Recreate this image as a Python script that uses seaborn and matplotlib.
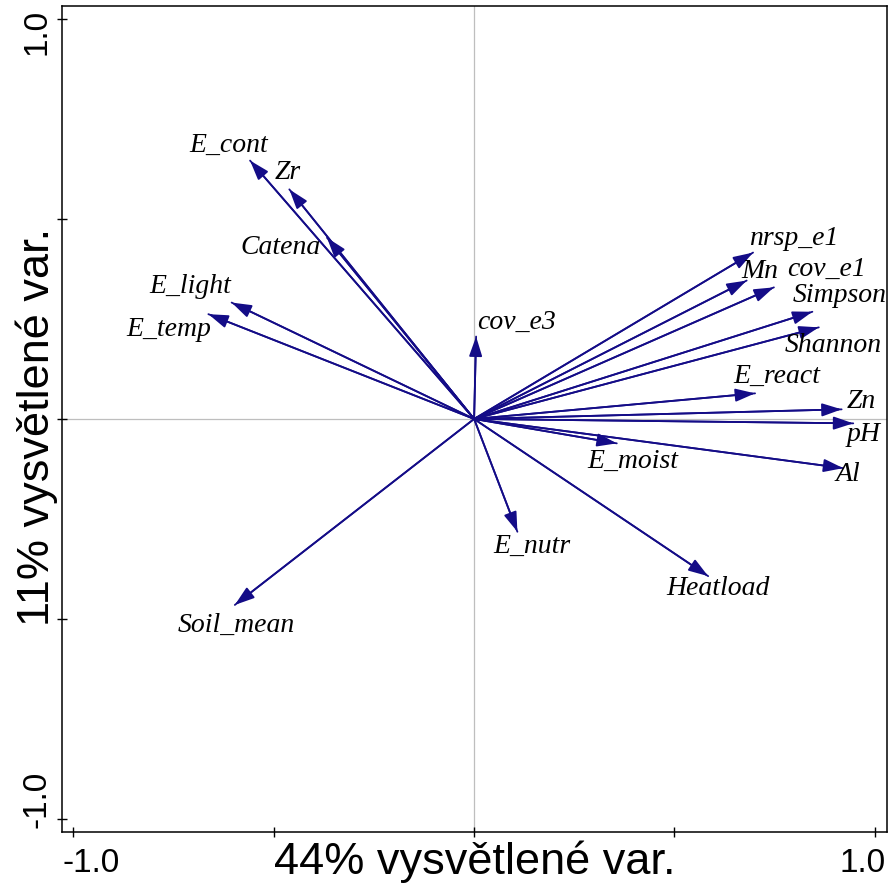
import numpy as np
import pandas as pd
import seaborn as sns
import matplotlib.pyplot as plt
import matplotlib.transforms as mtransforms

# Arrow tips (PCA loadings)
variables = ["E_cont", "Zr", "Catena", "E_light", "E_temp", "cov_e3",
             "nrsp_e1", "Mn", "cov_e1", "Simpson", "Shannon", "E_react",
             "Zn", "pH", "Al", "E_moist", "E_nutr", "Heatload", "Soil_mean"]
pc1 = [-0.559, -0.461, -0.367, -0.605, -0.663, 0.005,
       0.696, 0.680, 0.748, 0.844, 0.860, 0.701,
       0.917, 0.946, 0.921, 0.356, 0.108, 0.584, -0.597]
pc2 = [0.646, 0.574, 0.453, 0.291, 0.262, 0.206,
       0.416, 0.346, 0.329, 0.268, 0.229, 0.064,
       0.024, -0.011, -0.123, -0.061, -0.282, -0.393, -0.465]
# label positions
lab_x = [-0.612, -0.465, -0.484, -0.709, -0.763, 0.106,
         0.797, 0.714, 0.879, 0.912, 0.896, 0.755,
         0.967, 0.971, 0.933, 0.397, 0.143, 0.609, -0.593]
lab_y = [0.685, 0.615, 0.428, 0.331, 0.223, 0.241,
         0.452, 0.368, 0.374, 0.308, 0.183, 0.106,
         0.043, -0.040, -0.140, -0.107, -0.319, -0.423, -0.515]

ticks = [-1.0, -0.5, 0.0, 0.5, 1.0]
tick_labels = ["-1.0", "", "", "", "1.0"]

sns.set_style("ticks")
plt.rcParams['font.family'] = ['Liberation Sans', 'DejaVu Sans']
plt.rcParams['text.color'] = 'black'
plt.rcParams['axes.labelcolor'] = 'black'
plt.rcParams['xtick.color'] = 'black'
plt.rcParams['ytick.color'] = 'black'

arrow_col = "#140c87"

fig = plt.figure(figsize=(8.89, 8.83), dpi=100)
ax = fig.add_axes([0.0694, 0.0581, 0.9287, 0.9351])

ax.axhline(0, color="#bebebe", lw=0.9, zorder=0)
ax.axvline(0, color="#bebebe", lw=0.9, zorder=0)

# arrow shafts
seg = pd.DataFrame({
    "var": np.repeat(variables, 2),
    "x": np.ravel([[0, v] for v in pc1]),
    "y": np.ravel([[0, v] for v in pc2]),
})
sns.lineplot(data=seg, x="x", y="y", units="var", estimator=None, sort=False,
             color=arrow_col, lw=1.3, ax=ax, legend=False)

# arrow heads and labels
for name, x, y, lx, ly in zip(variables, pc1, pc2, lab_x, lab_y):
    ax.annotate("", xy=(x, y), xytext=(0, 0),
                arrowprops=dict(arrowstyle="-|>,head_length=1.2,head_width=0.4",
                                color=arrow_col, lw=1.3, shrinkA=0, shrinkB=0))
    ax.text(lx, ly, name, ha="center", va="center", fontsize=20,
            fontstyle="italic", family=["Liberation Serif", "DejaVu Serif"])

ax.set_xlim(-1.029, 1.031)
ax.set_ylim(-1.032, 1.0325)
ax.set_xticks(ticks, tick_labels, fontsize=24)
ax.set_yticks(ticks, tick_labels, fontsize=24, rotation=90, va="center")
ax.tick_params(direction="inout", length=7, width=1.0, color="black")
ax.tick_params(axis="x", pad=8)
ax.tick_params(axis="y", pad=14)

for lab in ax.get_yticklabels():
    lab.set_horizontalalignment("center")

# shift the end labels inward, as in the reference
def shift(lab, dx, dy):
    lab.set_transform(lab.get_transform() +
                      mtransforms.ScaledTranslation(dx / 72, dy / 72, fig.dpi_scale_trans))

xl = ax.get_xticklabels()
shift(xl[0], 13, 0)
shift(xl[-1], -9, 0)
yl = ax.get_yticklabels()
shift(yl[0], 0, 14)
shift(yl[-1], 0, -9)

for sp in ax.spines.values():
    sp.set_color("black")
    sp.set_linewidth(1.1)

ax.set_xlabel("44% vysvětlené var.", fontsize=32.5)
ax.set_ylabel("11% vysvětlené var.", fontsize=32.5)
ax.xaxis.set_label_coords(0.5, -0.011)
ax.yaxis.set_label_coords(-0.030, 0.49)
ax.yaxis.label.set_verticalalignment("center")

fig.savefig("out.png", dpi=100)
